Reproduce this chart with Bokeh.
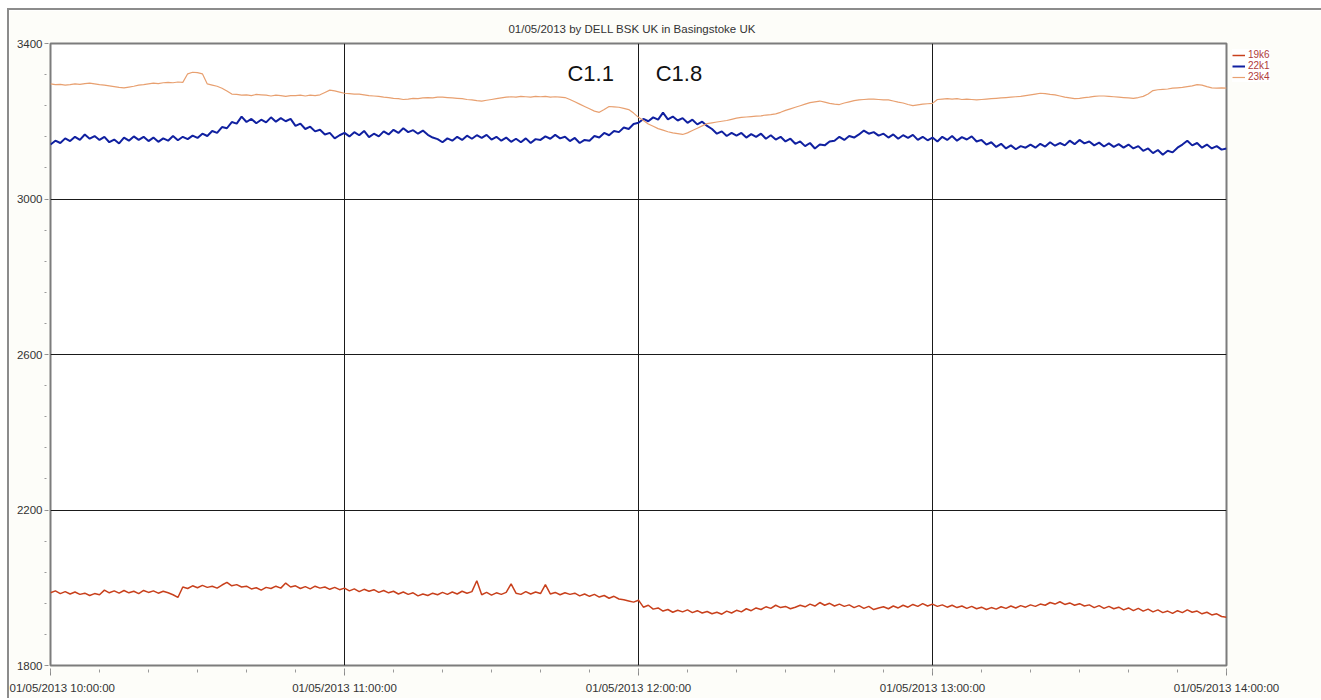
from bokeh.plotting import figure
from bokeh.models import FixedTicker, Legend, LegendItem, Label, Range1d
from bokeh.embed import file_html
from bokeh.resources import INLINE

# ---------------- data ----------------
title_text = "01/05/2013  by  DELL BSK UK  in  Basingstoke UK"
series_names = ["19k6", "22k1", "23k4"]
x_tick_minutes = [0, 60, 120, 180, 240]
x_tick_labels = ["01/05/2013 10:00:00", "01/05/2013 11:00:00", "01/05/2013 12:00:00",
                 "01/05/2013 13:00:00", "01/05/2013 14:00:00"]
x_minor_minutes = list(range(0, 241, 10))
y_ticks = [1800, 2200, 2600, 3000, 3400]
y_minor_ticks = list(range(1800, 3401, 80))
annotation_texts = ["C1.1", "C1.8"]
annotation_minutes = [105.5, 123.5]
annotation_values = [3323, 3323]

# 19k6 (one value per minute from 10:00)
values_19k6 = [
    1987, 1992, 1985, 1990, 1984, 1989, 1983, 1986, 1980, 1985,
    1982, 1994, 1987, 1992, 1986, 1993, 1987, 1991, 1985, 1993,
    1988, 1992, 1986, 1991, 1987, 1982, 1975, 2002, 1998, 2005,
    2000, 2006, 2001, 2004, 1999, 2007, 2014, 2005, 2008, 2002,
    2004, 1997, 2000, 1994, 2001, 1998, 2004, 1999, 2012, 2002,
    2005, 1998, 2003, 1997, 2004, 1999, 2002, 1996, 2001, 1995,
    1999, 1992, 1997, 1990, 1996, 1991, 1995, 1988, 1993, 1987,
    1991, 1984, 1989, 1983, 1987, 1979, 1984, 1980, 1986, 1982,
    1988, 1983, 1989, 1984, 1991, 1986, 1990, 2018, 1982, 1988,
    1981, 1987, 1983, 1988, 2010, 1986, 1983, 1990, 1984, 1989,
    1985, 2008, 1984, 1988, 1982, 1987, 1983, 1986, 1979, 1984,
    1978, 1983, 1976, 1980, 1973, 1978, 1971, 1969, 1966, 1963,
    1968, 1950, 1955, 1945, 1948, 1940, 1944, 1937, 1942, 1938,
    1943, 1936, 1941, 1935, 1939, 1933, 1937, 1932, 1940, 1935,
    1942, 1938, 1946, 1941, 1948, 1944, 1951, 1947, 1955, 1949,
    1952, 1946, 1950, 1955, 1951, 1958, 1953, 1962, 1955, 1960,
    1953, 1958, 1952, 1956, 1949, 1954, 1947, 1952, 1944, 1948,
    1951, 1946, 1953, 1948, 1955, 1950, 1957, 1952, 1959, 1953,
    1958, 1952, 1956, 1950, 1955, 1949, 1953, 1947, 1952, 1946,
    1950, 1944, 1949, 1945, 1951, 1947, 1953, 1948, 1954, 1950,
    1956, 1952, 1958, 1955, 1962, 1958, 1964, 1957, 1961, 1955,
    1959, 1953, 1956, 1949, 1954, 1947, 1952, 1946, 1950, 1943,
    1948, 1941, 1947, 1940, 1945, 1938, 1943, 1936, 1940, 1934,
    1941, 1936, 1943, 1937, 1940, 1933, 1937, 1930, 1933, 1926,
    1924,
]

# 22k1
values_22k1 = [
    3140, 3150, 3144, 3156, 3149, 3160, 3152, 3166, 3155, 3162,
    3152, 3160, 3146, 3153, 3143, 3158, 3150, 3161, 3152, 3160,
    3149, 3158, 3147, 3156, 3150, 3162, 3151, 3160, 3154, 3163,
    3157, 3168, 3162, 3175, 3170, 3185, 3182, 3198, 3194, 3212,
    3198, 3206, 3195, 3204, 3197, 3210, 3199, 3208, 3200, 3206,
    3188, 3194, 3180, 3186, 3174, 3178, 3166, 3170, 3156, 3164,
    3170, 3161, 3172, 3164, 3175, 3159, 3168, 3161, 3174, 3166,
    3178, 3170, 3182, 3172, 3177, 3168, 3176, 3165, 3158, 3154,
    3146, 3156, 3150, 3160, 3152, 3163, 3155, 3164, 3157, 3165,
    3153, 3160, 3150, 3158, 3147, 3155, 3146, 3156, 3144, 3154,
    3152, 3161, 3155, 3165, 3156, 3160, 3149, 3157, 3144, 3152,
    3150, 3162, 3158, 3170, 3164, 3175, 3172, 3184, 3180, 3193,
    3196, 3206, 3200, 3210, 3204, 3222, 3205, 3212, 3202, 3208,
    3196, 3204, 3192, 3199, 3188, 3180, 3168, 3174, 3162, 3170,
    3163, 3170, 3158, 3167, 3160, 3168, 3155, 3164, 3153, 3160,
    3148, 3155, 3142, 3148, 3136, 3144, 3130, 3140, 3138, 3148,
    3150, 3160, 3152, 3162, 3158, 3166, 3176, 3168, 3172, 3163,
    3168, 3158, 3166, 3155, 3164, 3157, 3165, 3152, 3160, 3151,
    3158, 3148, 3160, 3152, 3162, 3150, 3159, 3153, 3161, 3148,
    3152, 3140, 3146, 3134, 3142, 3130, 3138, 3128, 3136, 3132,
    3140, 3132, 3142, 3135, 3146, 3137, 3144, 3138, 3150, 3141,
    3152, 3143, 3148, 3138, 3145, 3135, 3143, 3134, 3141, 3132,
    3140, 3130, 3136, 3124, 3130, 3118, 3126, 3114, 3124, 3120,
    3132, 3140, 3150, 3138, 3144, 3132, 3140, 3130, 3136, 3127,
    3130,
]

# 23k4
values_23k4 = [
    3296, 3294, 3295, 3293, 3294, 3296, 3295, 3297, 3298, 3296,
    3294, 3293, 3291, 3289, 3287, 3286, 3288, 3290, 3293, 3294,
    3296, 3298, 3297, 3299, 3300, 3299, 3301, 3300, 3322, 3326,
    3325, 3322, 3296, 3293, 3290, 3285, 3278, 3270, 3269, 3267,
    3268, 3266, 3269, 3268, 3267, 3265, 3267, 3266, 3264, 3266,
    3266, 3267, 3265, 3267, 3266, 3268, 3274, 3280, 3278, 3275,
    3272, 3271, 3270, 3270, 3268, 3266, 3265, 3264, 3262, 3261,
    3259, 3258, 3256, 3257, 3259, 3258, 3260, 3261, 3260, 3262,
    3262, 3261, 3260, 3259, 3258, 3256, 3255, 3253, 3252, 3254,
    3256, 3258, 3260, 3262, 3263, 3262, 3264, 3263, 3262, 3264,
    3263, 3264, 3262, 3263, 3262, 3261, 3256, 3250, 3244, 3238,
    3232, 3226, 3223, 3230, 3238, 3237, 3236, 3233, 3230, 3221,
    3210, 3202, 3193, 3187, 3181, 3177, 3173, 3170, 3168, 3166,
    3170, 3176, 3182, 3188, 3194, 3196, 3198, 3200, 3202, 3205,
    3208, 3210, 3211, 3212, 3213, 3214, 3216, 3217, 3219, 3223,
    3228, 3232, 3236, 3240, 3244, 3248, 3250, 3252, 3249, 3246,
    3244, 3243, 3247, 3250, 3253, 3255, 3256, 3257, 3257, 3256,
    3255, 3255, 3252, 3249, 3247, 3243, 3240, 3242, 3244, 3245,
    3246, 3256, 3257, 3258, 3257, 3258, 3256, 3257, 3256, 3255,
    3256, 3257, 3258, 3259, 3260, 3261, 3262, 3263, 3264, 3266,
    3268, 3270, 3272, 3271, 3269, 3268, 3265, 3262, 3260, 3258,
    3259, 3261, 3262, 3264, 3265, 3265, 3264, 3263, 3262, 3261,
    3260, 3259, 3261, 3264, 3270, 3279, 3281, 3282, 3283, 3285,
    3286, 3287, 3289, 3291, 3294, 3293, 3289, 3286, 3285, 3286,
    3285,
]

series_values = [values_19k6, values_22k1, values_23k4]
series_colors = ["#c8401c", "#1020a0", "#e8a070"]
series_widths = [1.5, 2.0, 1.2]

FONT = "Liberation Sans"

p = figure(frame_width=1176, frame_height=622, output_backend="svg", toolbar_location=None,
           x_range=Range1d(x_tick_minutes[0], x_tick_minutes[-1]),
           y_range=Range1d(y_ticks[0], y_ticks[-1]),
           min_border_left=41, min_border_right=90, min_border_top=33, min_border_bottom=33,
           title=title_text)
p.styles = {"margin-left": "7px", "margin-top": "8px",
            "border-top": "2px solid #8c8c8c", "border-left": "2px solid #8c8c8c"}

p.background_fill_color = "#ffffff"
p.border_fill_color = "#fdfdf9"
p.outline_line_color = "#7c7c7c"
p.outline_line_width = 2

p.title.align = "center"
p.title.text_font = FONT
p.title.text_font_size = "11.5px"
p.title.text_font_style = "normal"
p.title.text_color = "#333333"
p.title.standoff = 18

# axes
p.xaxis.ticker = FixedTicker(ticks=x_tick_minutes, minor_ticks=x_minor_minutes)
p.xaxis.major_label_overrides = {m: lab for m, lab in zip(x_tick_minutes, x_tick_labels)}
p.yaxis.ticker = FixedTicker(ticks=y_ticks, minor_ticks=y_minor_ticks)
for ax in (p.xaxis, p.yaxis):
    ax.axis_line_color = None
    ax.major_tick_line_color = "#8a8a8a"
    ax.minor_tick_line_color = "#9a9a9a"
    ax.major_label_text_font = FONT
    ax.major_label_text_font_size = "11.5px"
    ax.major_label_text_color = "#333333"
p.xaxis.major_tick_in = -3
p.xaxis.major_tick_out = 10
p.xaxis.minor_tick_in = -4
p.xaxis.minor_tick_out = 7
p.xaxis.major_label_standoff = 6
p.yaxis.major_tick_in = -2
p.yaxis.major_tick_out = 5
p.yaxis.minor_tick_in = -4
p.yaxis.minor_tick_out = 6
p.yaxis.major_label_standoff = 2

# grid
p.xgrid.ticker = FixedTicker(ticks=x_tick_minutes[1:-1])
p.ygrid.ticker = FixedTicker(ticks=y_ticks[1:-1])
p.grid.grid_line_color = "#1a1a1a"
p.grid.grid_line_width = 1

renderers = []
for vals, col, w in zip(series_values, series_colors, series_widths):
    mins = list(range(len(vals)))
    renderers.append(p.line(mins, vals, line_color=col, line_width=w))

for txt, mx, my in zip(annotation_texts, annotation_minutes, annotation_values):
    p.add_layout(Label(x=mx, y=my, text=txt, text_font=FONT, text_font_size="22px",
                       text_baseline="middle", text_color="#111111"))

legend = Legend(items=[LegendItem(label=n, renderers=[r]) for n, r in zip(series_names, renderers)],
                location="top_left", orientation="vertical")
legend.label_text_font = FONT
legend.label_text_font_size = "10px"
legend.label_text_line_height = 1.0
legend.label_text_color = "#b03a3a"
legend.label_height = 10
legend.glyph_height = 10
legend.glyph_width = 13
legend.label_standoff = 3
legend.spacing = 0
legend.padding = 2
legend.margin = 6
legend.border_line_color = None
legend.background_fill_color = "#ffffff"
legend.background_fill_alpha = 1
p.add_layout(legend, "right")

open("out.html", "w").write(file_html(p, INLINE))
